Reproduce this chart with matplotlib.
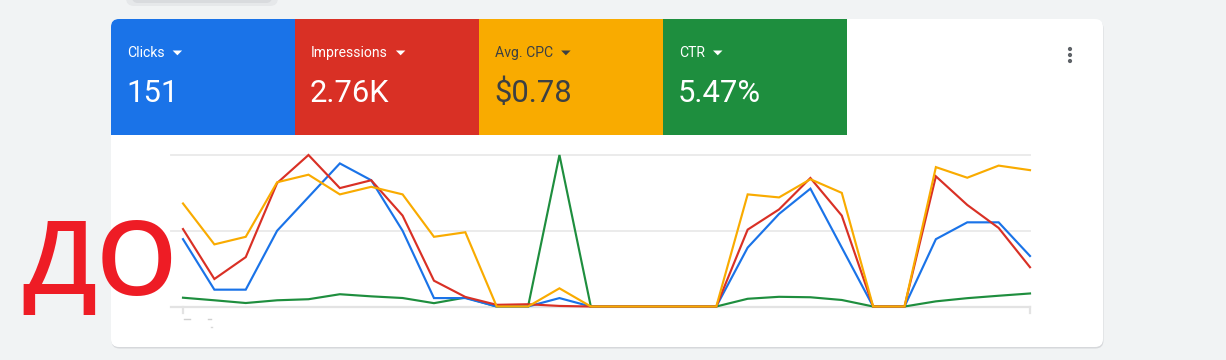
import matplotlib
matplotlib.use("Agg")
import matplotlib.pyplot as plt
from matplotlib.patches import FancyBboxPatch, Rectangle, Polygon, Circle

# ---------------- data ----------------
days = list(range(28))
clicks = [8, 2, 2, 9, 13, 17, 15, 9, 1, 1, 0, 0, 1, 0, 0, 0, 0, 0,
          7, 11, 14, 7, 0, 0, 8, 10, 10, 6]
impressions = [138, 49, 88, 220, 270, 211, 225, 162, 46, 17, 3, 4, 1, 0, 0, 0, 0, 0,
               137, 173, 229, 162, 0, 0, 232, 181, 140, 70]
avg_cpc = [0.68, 0.41, 0.46, 0.82, 0.87, 0.74, 0.79, 0.74, 0.46, 0.49, 0, 0, 0.12, 0, 0, 0, 0, 0,
           0.74, 0.72, 0.84, 0.75, 0, 0, 0.92, 0.85, 0.93, 0.90]
ctr = [5.8, 4.1, 2.3, 4.1, 4.8, 8.1, 6.7, 5.6, 2.2, 5.9, 0, 0, 100, 0, 0, 0, 0, 0,
       5.1, 6.4, 6.1, 4.3, 0, 0, 3.4, 5.5, 7.1, 8.6]

metric_names = ["Clicks", "Impressions", "Avg. CPC", "CTR"]
metric_totals = ["151", "2.76K", "$0.78", "5.47%"]
axis_tops = [18, 270, 1.0, 100]

BLUE, RED, ORANGE, GREEN = "#1A73E8", "#D93025", "#F9AB00", "#1E8E3E"
tile_colors = [BLUE, RED, ORANGE, GREEN]
text_colors = ["white", "white", "#3C4043", "white"]

W, H = 1226, 360
fig = plt.figure(figsize=(W / 100, H / 100), dpi=100)
fig.patch.set_facecolor("#F1F3F4")

bg = fig.add_axes([0, 0, 1, 1])
bg.set_xlim(0, W)
bg.set_ylim(H, 0)
bg.axis("off")

# faint chip shadow at the very top
bg.add_patch(FancyBboxPatch((126, -10), 152, 16, boxstyle="round,pad=0,rounding_size=8",
                            fc="#E6E8EA", ec="none", zorder=1))
bg.add_patch(FancyBboxPatch((132, -10), 140, 13, boxstyle="round,pad=0,rounding_size=6",
                            fc="#D9DBDE", ec="none", zorder=1))

# card with shadow
cx0, cy0, cx1, cy1 = 111, 19, 1103, 347
bg.add_patch(FancyBboxPatch((cx0 + 0.5, cy0 + 1.5), cx1 - cx0, cy1 - cy0,
                            boxstyle="round,pad=0,rounding_size=8", fc="#D6D8DB", ec="none", zorder=2))
bg.add_patch(FancyBboxPatch((cx0, cy0), cx1 - cx0, cy1 - cy0,
                            boxstyle="round,pad=0,rounding_size=8", fc="white", ec="none", zorder=3))

# tiles
tile_w = 184
tile_top, tile_bot = 19, 135
for i, col in enumerate(tile_colors):
    x0 = cx0 + i * tile_w
    if i == 0:
        bg.add_patch(FancyBboxPatch((x0, tile_top), tile_w, tile_bot - tile_top,
                                    boxstyle="round,pad=0,rounding_size=8", fc=col, ec="none", zorder=4))
        bg.add_patch(Rectangle((x0 + 8, tile_top), tile_w - 8, tile_bot - tile_top, fc=col, ec="none", zorder=4))
        bg.add_patch(Rectangle((x0, tile_top + 8), tile_w, tile_bot - tile_top - 8, fc=col, ec="none", zorder=4))
    else:
        bg.add_patch(Rectangle((x0, tile_top), tile_w, tile_bot - tile_top, fc=col, ec="none", zorder=4))

renderer = fig.canvas.get_renderer()
for i, (name, total) in enumerate(zip(metric_names, metric_totals)):
    x0 = cx0 + i * tile_w + 16
    t = bg.text(x0, 57.3, name, fontsize=10.1, family="Roboto", color=text_colors[i],
                va="baseline", ha="left", zorder=5)
    bg.text(x0 - 1, 101.7, total, fontsize=22.3, family="Roboto", color=text_colors[i],
            va="baseline", ha="left", zorder=5)
    bb = t.get_window_extent(renderer=renderer)
    tx = bb.x1 + 8
    bg.add_patch(Polygon([(tx, 50.5), (tx + 9.5, 50.5), (tx + 4.75, 55.3)], closed=True,
                         fc=text_colors[i], ec="none", zorder=5))

# kebab menu
for yy in (49, 55, 61):
    bg.add_patch(Circle((1070, yy), 2.1, fc="#5F6368", ec="none", zorder=5))

# ---------------- chart ----------------
px_left, px_right = 171, 1030
px_top, px_bot = 155, 306.5
first_x, step = 183, (1030 - 183) / 27
ax = fig.add_axes([px_left / W, (H - px_bot) / H, (px_right - px_left) / W, (px_bot - px_top) / H])
ax.set_xlim(days[0] - (first_x - px_left) / step, days[-1])
ax.set_ylim(0, 1)
ax.patch.set_alpha(0)
for s in ax.spines.values():
    s.set_visible(False)
ax.set_xticks([])
ax.set_yticks([])
ax.set_zorder(6)
for gy in (0.5, 1.0):
    ax.axhline(gy, color="#EBEBEB", lw=1.4, zorder=0, clip_on=False)
ax.axhline(0, color="#E3E3E3", lw=1.6, zorder=0, clip_on=False)
for tx in (days[0], days[-1]):
    ax.plot([tx, tx], [0, -0.045], color="#E3E3E3", lw=1.6, clip_on=False, zorder=0)

series = [(ctr, GREEN, 3), (clicks, BLUE, 0), (impressions, RED, 1), (avg_cpc, ORANGE, 2)]
for vals, col, idx in series:
    tw = ax.twinx()
    tw.set_ylim(0, axis_tops[idx])
    tw.set_xlim(ax.get_xlim())
    tw.axis("off")
    tw.plot(days, vals, color=col, lw=1.55, clip_on=False, solid_joinstyle="miter")

# faint axis label fragments
bg.plot([184, 190], [318.5, 318.5], color="#D0D0D0", lw=1.0, zorder=5)
bg.plot([208, 211], [318.5, 318.5], color="#D0D0D0", lw=1.0, zorder=5)
bg.plot([211, 212], [326.5, 326.5], color="#D8D8D8", lw=1.0, zorder=5)

# overlay label
fig.text(22 / W, 1 - 295 / H, "ДО", fontsize=74, family="Open Sans", fontweight="semibold",
         color="#EE1C25", ha="left", va="baseline", zorder=10)

fig.savefig("out.png", dpi=100)
